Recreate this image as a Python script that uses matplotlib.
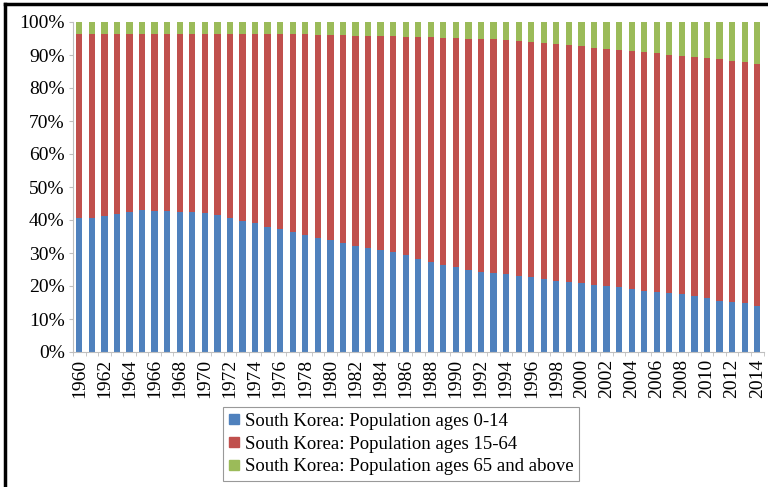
import matplotlib
matplotlib.use("Agg")
import matplotlib.pyplot as plt
from matplotlib.lines import Line2D
import numpy as np

years = list(range(1960, 2015))
ages_0_14 = [40.5, 40.6, 41.2, 41.7, 42.4, 43.0, 42.8, 42.8, 42.5, 42.5,
             42.1, 41.5, 40.6, 39.8, 39.0, 38.0, 37.2, 36.5, 35.5, 34.6,
             33.9, 32.9, 32.2, 31.6, 30.9, 30.2, 29.3, 28.3, 27.3, 26.3,
             25.7, 24.8, 24.3, 23.8, 23.5, 23.0, 22.7, 22.2, 21.6, 21.2,
             20.8, 20.4, 20.1, 19.6, 19.1, 18.6, 18.3, 18.0, 17.6, 17.1,
             16.3, 15.5, 15.2, 14.7, 14.0]
ages_15_64 = [55.8, 55.8, 55.2, 54.7, 54.1, 53.5, 53.7, 53.7, 54.0, 54.0,
              54.4, 55.0, 55.9, 56.7, 57.5, 58.4, 59.2, 59.8, 60.8, 61.6,
              62.3, 63.2, 63.7, 64.3, 64.9, 65.6, 66.3, 67.2, 68.2, 69.0,
              69.5, 70.2, 70.5, 70.9, 70.9, 71.1, 71.1, 71.3, 71.7, 71.8,
              71.8, 71.8, 71.8, 72.0, 72.1, 72.2, 72.2, 72.1, 72.1, 72.2,
              72.7, 73.2, 73.0, 73.1, 73.4]
ages_65_up = [3.7, 3.6, 3.6, 3.6, 3.5, 3.5, 3.5, 3.5, 3.5, 3.5,
              3.5, 3.5, 3.5, 3.5, 3.5, 3.6, 3.6, 3.7, 3.7, 3.8,
              3.8, 3.9, 4.1, 4.1, 4.2, 4.2, 4.4, 4.5, 4.5, 4.7,
              4.8, 5.0, 5.2, 5.3, 5.6, 5.9, 6.2, 6.5, 6.7, 7.0,
              7.4, 7.8, 8.1, 8.4, 8.8, 9.2, 9.5, 9.9, 10.3, 10.7,
              11.0, 11.3, 11.8, 12.2, 12.6]
series_names = ["South Korea: Population ages 0-14",
                "South Korea: Population ages 15-64",
                "South Korea: Population ages 65 and above"]
colors = ["#4F81BD", "#C0504D", "#9BBB59"]
y_ticks = [0, 10, 20, 30, 40, 50, 60, 70, 80, 90, 100]
y_tick_labels = [f"{v}%" for v in y_ticks]

plt.rcParams['font.family'] = ['Liberation Serif', 'DejaVu Serif']

fig = plt.figure(figsize=(7.68, 4.87), dpi=100)
ax = fig.add_axes([73/768, 1-352/487, (763.5-73)/768, (352-22)/487])

x = np.arange(len(years))
a = np.array(ages_0_14)
b = np.array(ages_15_64)
c = np.array(ages_65_up)
ax.bar(x, a, width=0.5, color=colors[0], label=series_names[0])
ax.bar(x, b, width=0.5, bottom=a, color=colors[1], label=series_names[1])
ax.bar(x, c, width=0.5, bottom=a+b, color=colors[2], label=series_names[2])

ax.set_xlim(-0.5, len(years)-0.5)
ax.set_ylim(0, 100)
ax.set_yticks(y_ticks)
ax.set_yticklabels(y_tick_labels, fontsize=14)
ax.set_xticks(x[::2])
ax.set_xticklabels([str(y) for y in years[::2]], rotation=90, fontsize=14)
ax.set_xticks(np.arange(-0.5, len(years), 1), minor=True)
ax.tick_params(axis='x', which='major', length=0, pad=5)
ax.tick_params(axis='x', which='minor', length=3, color='#BFBFBF', direction='out')
ax.tick_params(axis='y', length=3, color='#BFBFBF', direction='out', pad=3)

for s in ['top', 'right']:
    ax.spines[s].set_visible(False)
for s in ['left', 'bottom']:
    ax.spines[s].set_color('#BFBFBF')
    ax.spines[s].set_linewidth(0.8)

handles = [Line2D([], [], marker='s', linestyle='none', markersize=7,
                  markerfacecolor=col, markeredgecolor=col) for col in colors]
leg = fig.legend(handles, series_names, loc='lower center',
                 bbox_to_anchor=(401/768, 1-481/487), fontsize=13.5,
                 frameon=True, fancybox=False, handlelength=0.6,
                 handletextpad=0.3, labelspacing=0.3, borderpad=0.3,
                 borderaxespad=0)
leg.get_frame().set_edgecolor('#808080')
leg.get_frame().set_linewidth(0.8)

# outer black frame (left and top)
fig.add_artist(Line2D([5/768, 5/768], [0, 1-4/487], color='black', lw=2.5,
                      transform=fig.transFigure))
fig.add_artist(Line2D([5/768, 1], [1-4/487, 1-4/487], color='black', lw=2.5,
                      transform=fig.transFigure))

fig.savefig("out.png", dpi=100)
